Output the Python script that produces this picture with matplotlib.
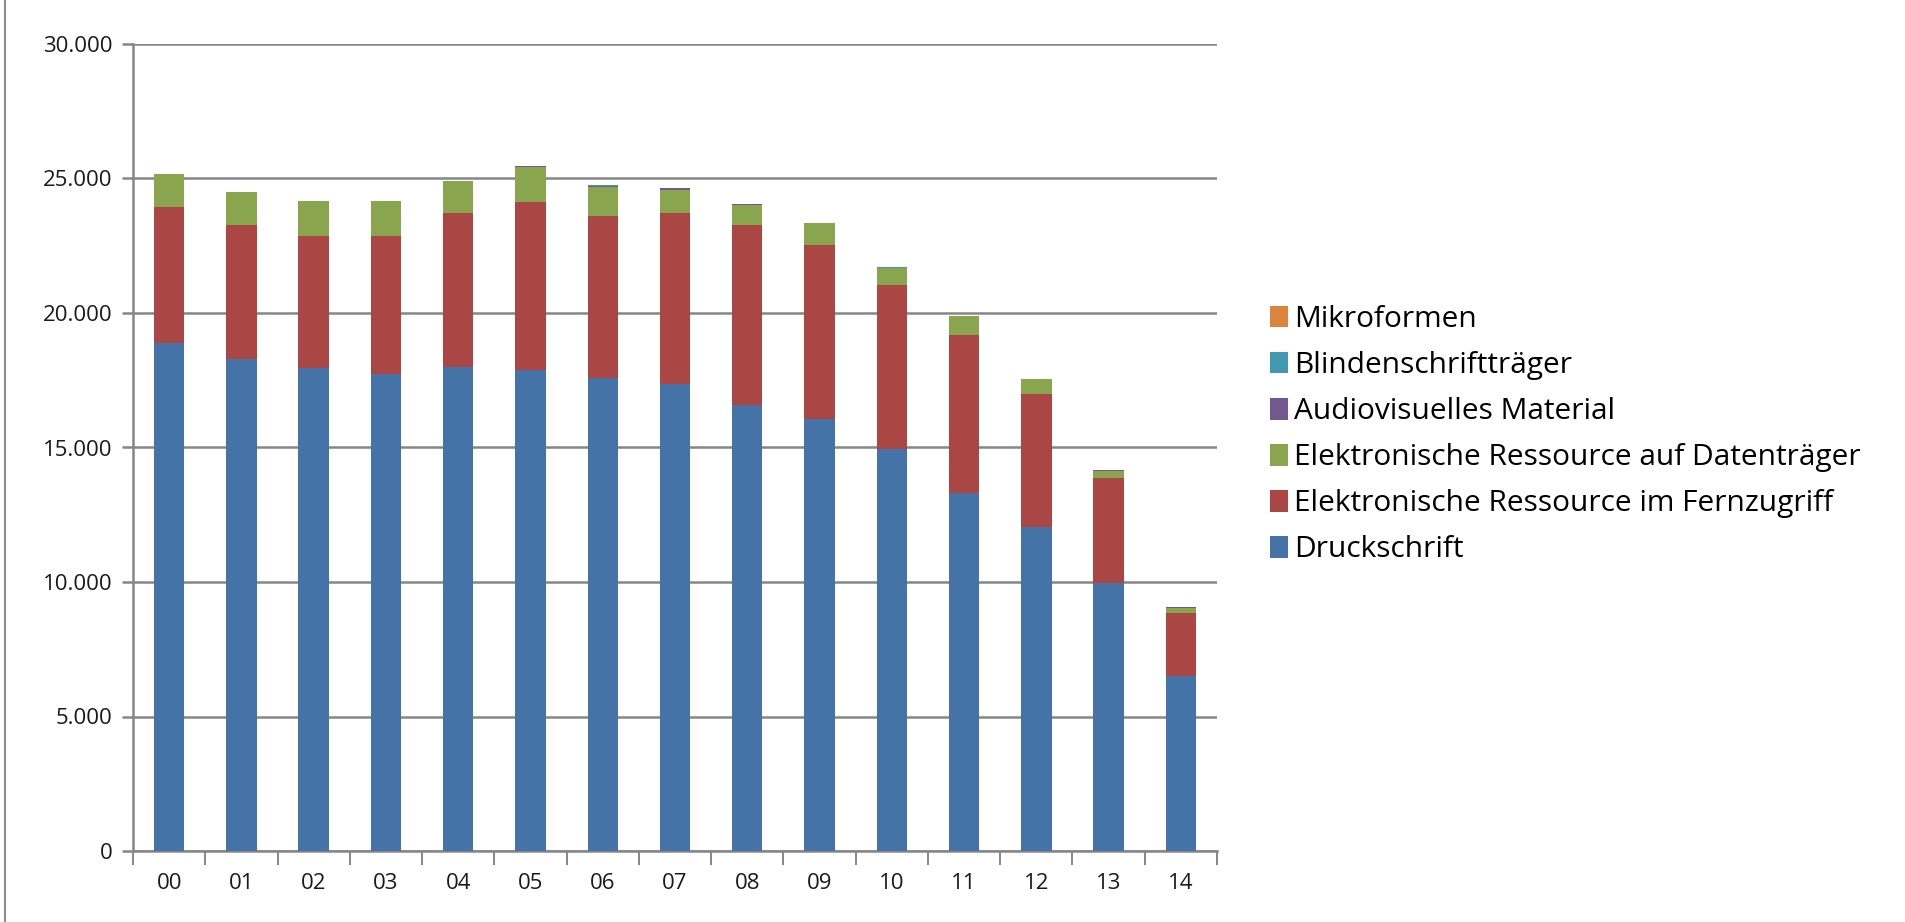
import numpy as np
import matplotlib.pyplot as plt
from matplotlib.lines import Line2D
from matplotlib.patches import Patch

plt.rcParams['font.family'] = ['Open Sans', 'DejaVu Sans']

years = ["00", "01", "02", "03", "04", "05", "06", "07", "08", "09", "10", "11", "12", "13", "14"]

# stacked series, bottom to top
druckschrift = [18900, 18280, 17940, 17730, 18000, 17880, 17570, 17360, 16580, 16060, 14930, 13320, 12030, 9950, 6510]
fernzugriff = [5030, 4990, 4920, 5130, 5700, 6240, 6030, 6340, 6690, 6470, 6110, 5880, 4960, 3900, 2330]
datentraeger = [1240, 1240, 1320, 1320, 1220, 1300, 1080, 880, 760, 800, 640, 680, 560, 290, 190]
audiovisuell = [0, 0, 0, 0, 0, 50, 50, 50, 10, 0, 10, 0, 0, 10, 30]
blinden = [0, 0, 0, 0, 0, 10, 10, 10, 30, 10, 10, 10, 10, 10, 10]
mikroformen = [0, 0, 0, 0, 0, 0, 0, 0, 0, 0, 0, 0, 0, 0, 0]

series = [
    ("Druckschrift", druckschrift, "#4572A7"),
    ("Elektronische Ressource im Fernzugriff", fernzugriff, "#AA4643"),
    ("Elektronische Ressource auf Datenträger", datentraeger, "#89A54E"),
    ("Audiovisuelles Material", audiovisuell, "#71588F"),
    ("Blindenschriftträger", blinden, "#4198AF"),
    ("Mikroformen", mikroformen, "#DB843D"),
]

fig = plt.figure(figsize=(19.05, 9.22), dpi=100)
ax = fig.add_axes([133 / 1905, 71 / 922, (1217 - 133) / 1905, (851 - 44) / 922])

x = np.arange(len(years))
bottom = np.zeros(len(years))
for name, vals, col in series:
    vals = np.array(vals, dtype=float)
    ax.bar(x, vals, width=0.42, bottom=bottom, color=col, label=name, zorder=3)
    bottom += vals

ax.set_xlim(-0.5, len(years) - 0.5)
ax.set_ylim(0, 30000)
ax.set_yticks(np.arange(0, 30001, 5000))
ax.set_yticklabels([f"{v:,}".replace(",", ".") for v in range(0, 30001, 5000)])
ax.yaxis.grid(True, color="#868686", linewidth=1.8, zorder=0)

ax.set_xticks(x)
ax.set_xticklabels(years)
ax.set_xticks(np.arange(-0.5, len(years), 1.0), minor=True)
ax.tick_params(axis="x", which="major", length=0, pad=16, labelsize=16, labelcolor="#1a1a1a")
ax.tick_params(axis="x", which="minor", length=10, width=1.4, color="#868686", direction="out")
ax.tick_params(axis="y", length=8, width=1.8, color="#868686", pad=7, labelsize=16, labelcolor="#1a1a1a")

for s in ["top", "right"]:
    ax.spines[s].set_visible(False)
ax.spines["left"].set_color("#868686")
ax.spines["left"].set_linewidth(1.8)
ax.spines["bottom"].set_color("#868686")
ax.spines["bottom"].set_linewidth(1.8)

# legend, listed top to bottom in reverse stacking order
handles = [Patch(facecolor=col, edgecolor="none") for _, _, col in series][::-1]
labels = [name for name, _, _ in series][::-1]
fig.legend(handles, labels, loc="upper left", bbox_to_anchor=(1258 / 1905, 1 - 293 / 922),
           frameon=False, fontsize=21.5, handlelength=0.6, handleheight=0.75,
           handletextpad=0.2, labelspacing=0.57, borderaxespad=0)

# chart border on the left
fig.add_artist(Line2D([5 / 1905, 5 / 1905], [0, 1], color="#8c8c8c", linewidth=1.5))

fig.savefig("out.png", dpi=100)
